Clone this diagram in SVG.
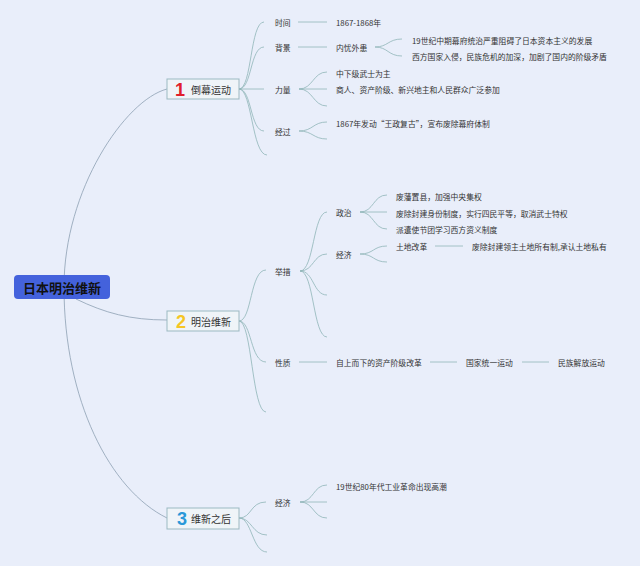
<svg xmlns="http://www.w3.org/2000/svg" width="640" height="566" viewBox="0 0 640 566">
<style>
text{font-family:"Noto Sans CJK SC","Noto Sans",sans-serif;fill:#333;dominant-baseline:central}
.t{font-size:7.8px}
.l1{font-size:10px}
.num{font-size:18px;font-weight:bold;font-family:"Liberation Sans","Noto Sans",sans-serif}
.box{fill:#eff4f8;stroke:#9cb9c1;stroke-width:1}
.c{fill:none;stroke:#8fb5b8;stroke-width:0.8}
.r{fill:none;stroke:#8d9fb2;stroke-width:0.8}
</style>
<rect width="640" height="566" fill="#e9eefa"/>
<g id="connectors">
<path class="r" d="M64,287 C64,190 125,100 167,89"/>
<path class="r" d="M64,287 C64,400 110,490 167,518"/>
<path class="r" d="M76,299 C105,313 130,320 167,320"/>
<path class="c" d="M239,89 C252,89 250,22 264,22"/>
<path class="c" d="M239,89 C252,89 250,47 264,47"/>
<path class="c" d="M239,89 L264,89"/>
<path class="c" d="M239,89 C252,89 250,131 264,131"/>
<path class="c" d="M239,89 C252,89 252,155 267,155"/>
<path class="c" d="M298,22 L327,22"/>
<path class="c" d="M298,47 L327,47"/>
<path class="c" d="M375,47 C388,47 388,39 402,39"/>
<path class="c" d="M375,47 C388,47 388,56 402,56"/>
<path class="c" d="M299,89 C313,89 313,72 327,72"/>
<path class="c" d="M299,89 L327,89"/>
<path class="c" d="M299,89 C313,89 313,106 327,106"/>
<path class="c" d="M299,131 C313,131 313,122 327,122"/>
<path class="c" d="M299,131 C313,131 313,139 327,139"/>
<path class="c" d="M239,321 C252,321 250,270 266,270"/>
<path class="c" d="M239,321 C252,321 250,362 266,362"/>
<path class="c" d="M239,321 C252,321 252,412 266,412"/>
<path class="c" d="M300,271 C314,271 313,212 327,212"/>
<path class="c" d="M300,271 C314,271 313,254 327,254"/>
<path class="c" d="M300,271 C314,271 313,295 327,295"/>
<path class="c" d="M300,271 C314,271 313,337 327,337"/>
<path class="c" d="M360,212 C374,212 373,195 387,195"/>
<path class="c" d="M360,212 L387,212"/>
<path class="c" d="M360,212 C374,212 373,229 387,229"/>
<path class="c" d="M360,254 C374,254 373,246 387,246"/>
<path class="c" d="M360,254 C374,254 373,262 387,262"/>
<path class="c" d="M435,246 L463,246"/>
<path class="c" d="M299,362 L327,362"/>
<path class="c" d="M430,362 L457,362"/>
<path class="c" d="M522,362 L549,362"/>
<path class="c" d="M239,518 C252,518 250,502 266,502"/>
<path class="c" d="M239,518 C252,518 252,535 267,535"/>
<path class="c" d="M239,518 C252,518 252,552 267,552"/>
<path class="c" d="M300,502 C314,502 313,485 327,485"/>
<path class="c" d="M300,502 L327,502"/>
<path class="c" d="M300,502 C314,502 313,518 327,518"/>
</g>
<g id="root">
<rect x="14" y="275" width="96" height="24" rx="4" fill="#4462dc"/>
<text x="62" y="287" text-anchor="middle" style="font-size:13px;font-weight:bold;fill:#111">日本明治维新</text>
</g>
<g id="n1">
<rect class="box" x="167" y="79" width="72" height="20"/>
<text class="num" x="180" y="89.5" text-anchor="middle" style="fill:#e0202c">1</text>
<text class="l1" x="191" y="89">倒幕运动</text>
</g>
<g id="n2">
<rect class="box" x="167" y="311" width="72" height="20"/>
<text class="num" x="181" y="321.5" text-anchor="middle" style="fill:#f5c623">2</text>
<text class="l1" x="191" y="321">明治维新</text>
</g>
<g id="n3">
<rect class="box" x="167" y="508" width="72" height="21"/>
<text class="num" x="182" y="519" text-anchor="middle" style="fill:#2a98d8">3</text>
<text class="l1" x="191" y="518">维新之后</text>
</g>
<g id="n1-time"><text class="t" x="275" y="22">时间</text></g>
<g id="n1-time-v"><text class="t" x="336" y="22">1867-1868年</text></g>
<g id="n1-bg"><text class="t" x="275" y="47">背景</text></g>
<g id="n1-bg-v"><text class="t" x="336" y="47">内忧外患</text></g>
<g id="n1-bg-a"><text class="t" x="412" y="40">19世纪中期幕府统治严重阻碍了日本资本主义的发展</text></g>
<g id="n1-bg-b"><text class="t" x="412" y="56">西方国家入侵，民族危机的加深，加剧了国内的阶级矛盾</text></g>
<g id="n1-force"><text class="t" x="275" y="89">力量</text></g>
<g id="n1-force-a"><text class="t" x="336" y="73">中下级武士为主</text></g>
<g id="n1-force-b"><text class="t" x="336" y="89">商人、资产阶级、新兴地主和人民群众广泛参加</text></g>
<g id="n1-course"><text class="t" x="275" y="131">经过</text></g>
<g id="n1-course-a"><text class="t" x="336" y="123">1867年发动“王政复古”，宣布废除幕府体制</text></g>
<g id="n2-measures"><text class="t" x="275" y="271">举措</text></g>
<g id="n2-pol"><text class="t" x="336" y="212">政治</text></g>
<g id="n2-pol-a"><text class="t" x="396" y="196">废藩置县，加强中央集权</text></g>
<g id="n2-pol-b"><text class="t" x="396" y="213">废除封建身份制度，实行四民平等，取消武士特权</text></g>
<g id="n2-pol-c"><text class="t" x="396" y="229">派遣使节团学习西方资义制度</text></g>
<g id="n2-eco"><text class="t" x="336" y="254">经济</text></g>
<g id="n2-eco-a"><text class="t" x="396" y="246">土地改革</text></g>
<g id="n2-eco-a1"><text class="t" x="472" y="246">废除封建领主土地所有制,承认土地私有</text></g>
<g id="n2-nature"><text class="t" x="275" y="362">性质</text></g>
<g id="n2-nature-a"><text class="t" x="336" y="362">自上而下的资产阶级改革</text></g>
<g id="n2-nature-b"><text class="t" x="466" y="362">国家统一运动</text></g>
<g id="n2-nature-c"><text class="t" x="558" y="362">民族解放运动</text></g>
<g id="n3-eco"><text class="t" x="275" y="502">经济</text></g>
<g id="n3-eco-a"><text class="t" x="336" y="486">19世纪80年代工业革命出现高潮</text></g>
</svg>
